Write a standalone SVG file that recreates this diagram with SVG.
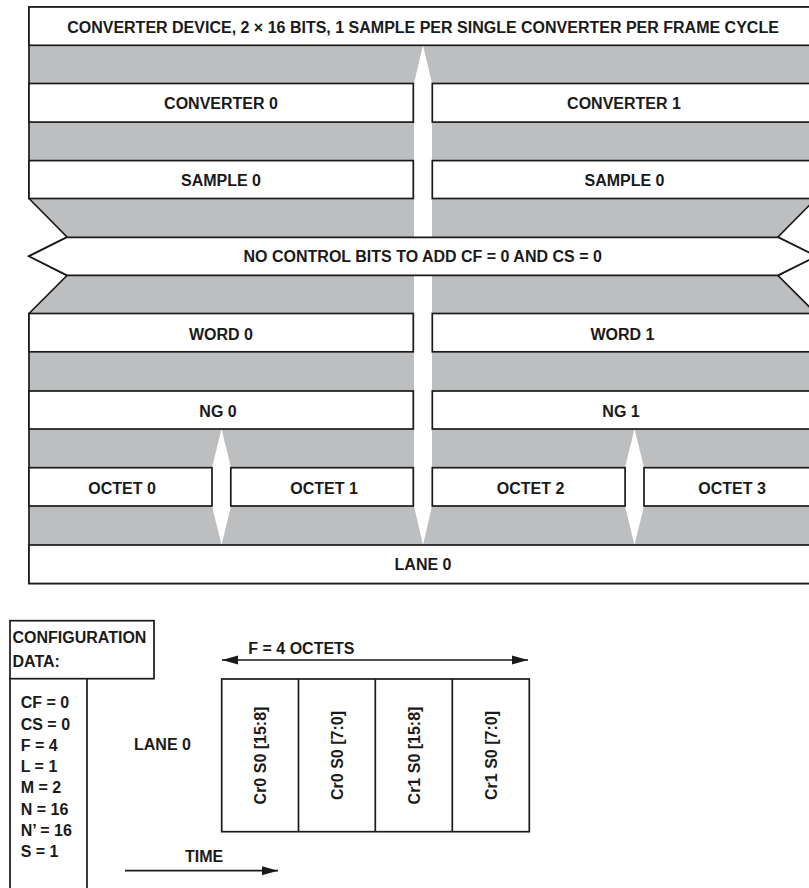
<svg xmlns="http://www.w3.org/2000/svg" width="809" height="888" viewBox="0 0 809 888">
<style>
  .box { fill: #ffffff; stroke: #1a1a1a; stroke-width: 1.7; }
  .lbl { font-family: "Liberation Sans", Arial, sans-serif; font-weight: bold; font-size: 16px; fill: #1a1a1a; }
  .mid { text-anchor: middle; }
  .wa { fill: #ffffff; stroke: none; }
  .ln { stroke: #1a1a1a; stroke-width: 1.7; fill: none; }
</style>
<defs>
  <marker id="ah" markerUnits="userSpaceOnUse" markerWidth="17" markerHeight="10" refX="16" refY="5" orient="auto-start-reverse">
    <path d="M0,0.5 L16,5 L0,9.5 z" fill="#1a1a1a"/>
  </marker>
</defs>
<rect width="809" height="888" fill="#ffffff"/>

<!-- background frame -->
<g id="frame">
  <polygon points="29,7 816,7 816,198.5 778,237 816,256 778,275.5 816,313.5 816,583.5 29,583.5 29,313.5 67,275.5 29,256 67,237 29,198.5" fill="#bcbec0" stroke="#1a1a1a" stroke-width="1.7"/>
</g>

<!-- connectors (white block arrows) -->
<g id="connectors">
  <polygon class="wa" points="423,45 432,83.5 432,506 423,545 414,506 414,83.5"/>
  <polygon class="wa" points="221.5,429 231,467.5 231,506 221.5,545 212,506 212,467.5"/>
  <polygon class="wa" points="634.5,429 644,467.5 644,506 634.5,545 625,506 625,467.5"/>
  <line class="ln" x1="222" y1="660" x2="528" y2="660" marker-start="url(#ah)" marker-end="url(#ah)"/>
  <line class="ln" x1="125" y1="870.7" x2="278" y2="870.7" marker-end="url(#ah)"/>
</g>

<g id="title">
  <rect class="box" x="29" y="7" width="787" height="38.3"/>
  <text class="lbl mid" x="423" y="32.8">CONVERTER DEVICE, 2 × 16 BITS, 1 SAMPLE PER SINGLE CONVERTER PER FRAME CYCLE</text>
</g>
<g id="converter0">
  <rect class="box" x="29" y="83.5" width="384.3" height="38.6"/>
  <text class="lbl mid" x="221" y="109.3">CONVERTER 0</text>
</g>
<g id="converter1">
  <rect class="box" x="432.3" y="83.5" width="384" height="38.6"/>
  <text class="lbl mid" x="624" y="109.3">CONVERTER 1</text>
</g>
<g id="sample0a">
  <rect class="box" x="29" y="160.6" width="384.3" height="37.9"/>
  <text class="lbl mid" x="221" y="185.8">SAMPLE 0</text>
</g>
<g id="sample0b">
  <rect class="box" x="432.3" y="160.6" width="384" height="37.9"/>
  <text class="lbl mid" x="624.5" y="185.8">SAMPLE 0</text>
</g>
<g id="controlbits">
  <polygon class="box" points="67,237.3 778,237.3 816.5,256.3 778,275.3 67,275.3 29,256.3"/>
  <text class="lbl mid" x="422.7" y="262.3">NO CONTROL BITS TO ADD CF = 0 AND CS = 0</text>
</g>
<g id="word0">
  <rect class="box" x="29" y="313.5" width="384.3" height="38.3"/>
  <text class="lbl mid" x="221" y="339.6">WORD 0</text>
</g>
<g id="word1">
  <rect class="box" x="432.3" y="313.5" width="384" height="38.3"/>
  <text class="lbl mid" x="622.5" y="339.6">WORD 1</text>
</g>
<g id="ng0">
  <rect class="box" x="29" y="391" width="384.3" height="38"/>
  <text class="lbl mid" x="218" y="416.6">NG 0</text>
</g>
<g id="ng1">
  <rect class="box" x="432.3" y="391" width="384" height="38"/>
  <text class="lbl mid" x="621" y="416.6">NG 1</text>
</g>
<g id="octet0">
  <rect class="box" x="29" y="467.7" width="183" height="38.3"/>
  <text class="lbl mid" x="122" y="493.5">OCTET 0</text>
</g>
<g id="octet1">
  <rect class="box" x="230.8" y="467.7" width="182.5" height="38.3"/>
  <text class="lbl mid" x="324" y="493.5">OCTET 1</text>
</g>
<g id="octet2">
  <rect class="box" x="432.3" y="467.7" width="192.8" height="38.3"/>
  <text class="lbl mid" x="530.5" y="493.5">OCTET 2</text>
</g>
<g id="octet3">
  <rect class="box" x="644" y="467.7" width="172.3" height="38.3"/>
  <text class="lbl mid" x="732" y="493.5">OCTET 3</text>
</g>
<g id="lane0">
  <rect class="box" x="29" y="545" width="787" height="38.5"/>
  <text class="lbl mid" x="423" y="569.8">LANE 0</text>
</g>

<!-- configuration data -->
<g id="config">
  <rect class="box" x="10" y="620.7" width="144" height="58"/>
  <path class="ln" d="M10,678.7 V892 M87,678.7 V892"/>
  <text class="lbl" x="12.5" y="642.7">CONFIGURATION</text>
  <text class="lbl" x="12.5" y="666.7">DATA:</text>
  <text class="lbl" x="20.7" y="708.3">CF = 0</text>
  <text class="lbl" x="20.7" y="729.5">CS = 0</text>
  <text class="lbl" x="20.7" y="750.7">F = 4</text>
  <text class="lbl" x="20.7" y="771.9">L = 1</text>
  <text class="lbl" x="20.7" y="793.2">M = 2</text>
  <text class="lbl" x="20.7" y="814.6">N = 16</text>
  <text class="lbl" x="20.7" y="835.9">N’ = 16</text>
  <text class="lbl" x="20.7" y="857.4">S = 1</text>
</g>

<g id="lanelabel">
  <text class="lbl" x="134" y="750">LANE 0</text>
</g>
<g id="octetslabel">
  <text class="lbl" x="248.3" y="654.3">F = 4 OCTETS</text>
</g>
<g id="timelabel">
  <text class="lbl" x="185" y="862.3">TIME</text>
</g>

<g id="frameoctets">
  <rect class="box" x="221.7" y="679" width="307.6" height="152.7"/>
  <path class="ln" d="M298.5,679 V831.7 M375.3,679 V831.7 M452.3,679 V831.7"/>
  <text class="lbl mid" transform="translate(266,755.5) rotate(-90)">Cr0 S0 [15:8]</text>
  <text class="lbl mid" transform="translate(342.8,755.5) rotate(-90)">Cr0 S0 [7:0]</text>
  <text class="lbl mid" transform="translate(419.8,755.5) rotate(-90)">Cr1 S0 [15:8]</text>
  <text class="lbl mid" transform="translate(496.8,755.5) rotate(-90)">Cr1 S0 [7:0]</text>
</g>
</svg>
